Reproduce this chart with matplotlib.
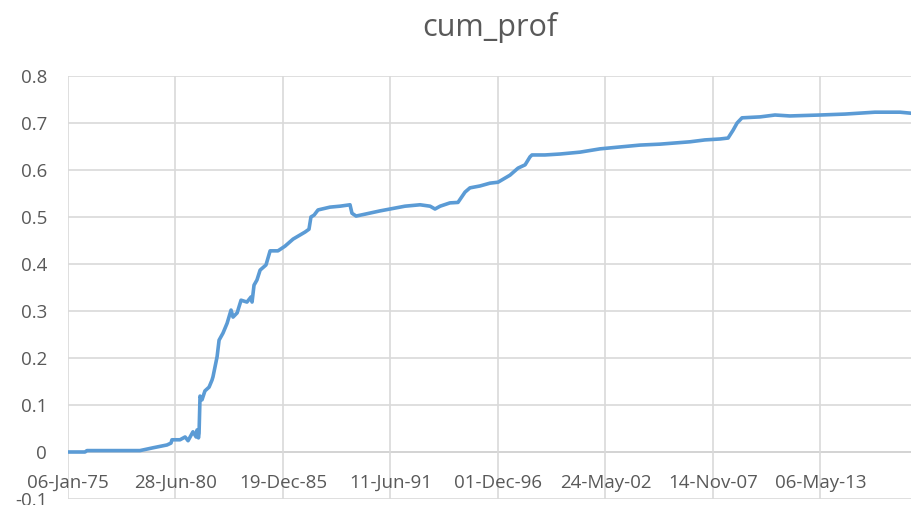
import matplotlib
matplotlib.use("Agg")
import matplotlib.pyplot as plt
import matplotlib.dates as mdates
import pandas as pd
import numpy as np

# decimal-year positions and cumulative profit values
years = [1975.02, 1975.88, 1975.98, 1978.68, 1979.35, 1980.06, 1980.26, 1980.31,
         1980.72, 1980.98, 1981.13, 1981.38, 1981.54, 1981.59, 1981.66, 1981.69,
         1981.74, 1981.84, 1981.99, 1982.20, 1982.35, 1982.40, 1982.61, 1982.71,
         1982.91, 1983.12, 1983.32, 1983.42, 1983.63, 1983.83, 1984.13, 1984.34,
         1984.39, 1984.49, 1984.64, 1984.80, 1985.10, 1985.31, 1985.71, 1986.07,
         1986.48, 1987.09, 1987.29, 1987.39, 1987.55, 1987.75, 1988.36, 1988.87,
         1989.38, 1989.48, 1989.69, 1990.14, 1990.91, 1991.42, 1992.18, 1992.95,
         1993.46, 1993.71, 1993.97, 1994.47, 1994.88, 1995.24, 1995.49, 1996.00,
         1996.51, 1996.92, 1997.53, 1997.94, 1998.30, 1998.55, 1998.65, 1999.31,
         2000.08, 2001.10, 2002.12, 2003.13, 2004.15, 2005.17, 2006.70, 2007.46,
         2008.23, 2008.64, 2008.90, 2009.10, 2009.35, 2010.27, 2011.03, 2011.79,
         2013.32, 2014.60, 2016.12, 2017.40, 2017.91]
cum_prof = [0.000, 0.000, 0.003, 0.003, 0.009, 0.015, 0.019, 0.026,
            0.026, 0.032, 0.024, 0.043, 0.032, 0.047, 0.030, 0.040,
            0.119, 0.111, 0.130, 0.138, 0.153, 0.160, 0.203, 0.238,
            0.253, 0.274, 0.302, 0.287, 0.296, 0.323, 0.319, 0.330,
            0.319, 0.355, 0.366, 0.387, 0.398, 0.428, 0.428, 0.438,
            0.453, 0.468, 0.474, 0.500, 0.504, 0.515, 0.521, 0.523,
            0.526, 0.508, 0.502, 0.506, 0.513, 0.517, 0.523, 0.526,
            0.523, 0.517, 0.523, 0.530, 0.531, 0.553, 0.562, 0.566,
            0.572, 0.574, 0.589, 0.604, 0.611, 0.628, 0.632, 0.632,
            0.634, 0.638, 0.645, 0.649, 0.653, 0.655, 0.660, 0.664,
            0.666, 0.668, 0.685, 0.700, 0.711, 0.713, 0.717, 0.715,
            0.717, 0.719, 0.723, 0.723, 0.721]

title = "cum_prof"
first_tick = "1975-01-06"
tick_step_days = 2000
n_ticks = 8
x_end_year = 2018.01
yticks = [-0.1, 0, 0.1, 0.2, 0.3, 0.4, 0.5, 0.6, 0.7, 0.8]
ytick_labels = ["-0.1", "0", "0.1", "0.2", "0.3", "0.4", "0.5", "0.6", "0.7", "0.8"]

def yr_to_date(y):
    return pd.Timestamp("1975-01-01") + pd.to_timedelta((np.asarray(y) - 1975.0) * 365.25, unit="D")

dates = yr_to_date(years)
ticks = [pd.Timestamp(first_tick) + pd.Timedelta(days=tick_step_days * k) for k in range(n_ticks)]

text_col = "#595959"
fig = plt.figure(figsize=(9.12, 5.05), dpi=100)
ax = fig.add_axes([68 / 912, 6 / 505, 844 / 912, 423 / 505])

ax.plot(dates, cum_prof, color="#5B9BD5", lw=2.6, solid_joinstyle="round", zorder=3)

ax.set_xlim(pd.Timestamp(first_tick), yr_to_date(x_end_year))
ax.set_ylim(-0.1, 0.8)
ax.set_xticks(ticks)
ax.xaxis.set_major_formatter(mdates.DateFormatter("%d-%b-%y"))
ax.set_yticks(yticks)
ax.set_yticklabels(ytick_labels)

ax.grid(True, color="#D9D9D9", lw=1.2, zorder=0)
ax.axhline(0, color="#BFBFBF", lw=1.4, zorder=1)
for s in ax.spines.values():
    s.set_visible(False)

ax.tick_params(axis="both", length=0, colors=text_col, labelsize=13.5)
ax.tick_params(axis="y", pad=15)
# x tick labels sit just below the zero line (axis crosses at 0)
ax.tick_params(axis="x", pad=-18)
for lab in ax.get_xticklabels() + ax.get_yticklabels():
    lab.set_fontfamily("Open Sans")

fig.text(490 / 912, (505 - 36) / 505, title, fontsize=22, color=text_col,
         family="Open Sans", ha="center", va="baseline")

fig.savefig("out.png", dpi=100)
